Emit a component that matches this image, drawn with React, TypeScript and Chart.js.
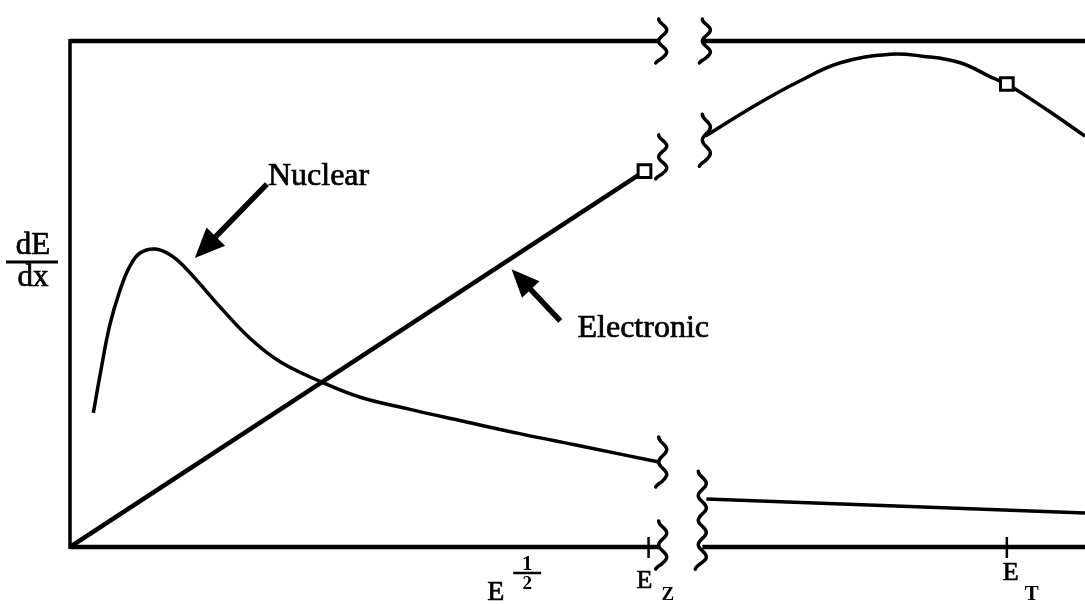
import React, { useEffect, useRef } from "react";
import { Chart, registerables } from "chart.js";

Chart.register(...registerables);

// Energy axis runs in E^1/2 units (0..100 across the frame), dE/dx in relative units.
// Nuclear stopping, low-energy branch
const nuclearLowX = [2.3, 3.0, 3.9, 4.9, 5.9, 6.9, 8.4, 9.9, 11.3, 12.8, 14.8, 17.7, 20.7, 24.8, 28.6, 33.5, 38.4, 44.3, 50.2, 58.0];
const nuclearLowY = [26.5, 34.4, 43.7, 50.6, 55.5, 58.1, 58.9, 57.7, 55.3, 52.0, 47.4, 41.3, 36.6, 32.6, 29.6, 27.2, 25.0, 22.4, 20.0, 16.8];

// Electronic stopping, velocity-proportional region (ends at E_Z)
const electronicLowX = [0, 56.6];
const electronicLowY = [0, 74.3];

// Electronic stopping past the break, peaking and falling beyond E_T
const electronicHighX = [62.6, 67.7, 71.9, 75.9, 80.8, 84.0, 87.7, 90.9, 92.3, 96.1, 100];
const electronicHighY = [81.2, 87.5, 92.1, 95.7, 97.4, 97.0, 95.7, 92.7, 91.5, 86.6, 81.2];
const electronicHighMarker = 8;

// Nuclear stopping past the break
const nuclearHighX = [62.7, 100];
const nuclearHighY = [9.5, 6.7];

// Marked energies on the horizontal axis
const tickValues = [57.0, 92.3];
const tickMain = ["E", "E"];
const tickSub = ["Z", "T"];

// Axis break positions
const breakLeft = 58.0;
const breakRight = 62.3;

const SERIF = '"Liberation Serif", "Times New Roman", serif';

const zip = (xs: number[], ys: number[]) => xs.map((x, i) => ({ x, y: ys[i] }));

// Text with a faint outline so the serif glyphs read as heavy as the ink lines
function inkText(ctx: CanvasRenderingContext2D, s: string, x: number, y: number) {
  ctx.fillText(s, x, y);
  ctx.lineWidth = 0.7;
  ctx.strokeText(s, x, y);
}

// Wavy break mark: vertical stroke with n rightward bumps, meeting the line at its middle
function drawWave(ctx: CanvasRenderingContext2D, px: number, py: number, h: number, n: number) {
  const A = 8;
  ctx.beginPath();
  const steps = 80;
  for (let i = 0; i <= steps; i++) {
    const s = i / steps;
    const bump = Math.sin(n * Math.PI * s);
    let xx = px + A * bump * bump;
    if (s > 0.9) xx -= (s - 0.9) * 30;
    const yy = py - h / 2 + s * h;
    if (i === 0) ctx.moveTo(xx, yy);
    else ctx.lineTo(xx, yy);
  }
  ctx.stroke();
}

function drawArrow(ctx: CanvasRenderingContext2D, x0: number, y0: number, x1: number, y1: number, headLen: number, headW: number, shaftW: number) {
  const ang = Math.atan2(y1 - y0, x1 - x0);
  const bx = x1 - headLen * Math.cos(ang);
  const by = y1 - headLen * Math.sin(ang);
  ctx.lineWidth = shaftW;
  ctx.lineCap = "butt";
  ctx.beginPath();
  ctx.moveTo(x0, y0);
  ctx.lineTo(bx + 2 * Math.cos(ang), by + 2 * Math.sin(ang));
  ctx.stroke();
  const nx = -Math.sin(ang);
  const ny = Math.cos(ang);
  ctx.beginPath();
  ctx.moveTo(x1, y1);
  ctx.lineTo(bx + nx * headW / 2, by + ny * headW / 2);
  ctx.lineTo(bx - nx * headW / 2, by - ny * headW / 2);
  ctx.closePath();
  ctx.fill();
}

const sketchPlugin = {
  id: "sketch",
  beforeDatasetsDraw(chart: any) {
    const { ctx, scales } = chart;
    const X = (v: number) => scales.x.getPixelForValue(v);
    const Y = (v: number) => scales.y.getPixelForValue(v);
    ctx.save();
    ctx.strokeStyle = "#000";
    ctx.lineCap = "butt";
    // left axis
    ctx.lineWidth = 3.5;
    ctx.beginPath();
    ctx.moveTo(X(0), Y(100) - 2);
    ctx.lineTo(X(0), Y(0) + 2);
    ctx.stroke();
    // top and bottom frame lines, interrupted at the break
    ctx.lineWidth = 4.5;
    for (const yv of [100, 0]) {
      ctx.beginPath();
      ctx.moveTo(X(0), Y(yv));
      ctx.lineTo(X(breakLeft), Y(yv));
      ctx.moveTo(X(breakRight), Y(yv));
      ctx.lineTo(X(100) + 5, Y(yv));
      ctx.stroke();
    }
    ctx.restore();
  },
  afterDatasetsDraw(chart: any) {
    const { ctx, scales, chartArea } = chart;
    const X = (v: number) => scales.x.getPixelForValue(v);
    const Y = (v: number) => scales.y.getPixelForValue(v);
    ctx.save();
    ctx.strokeStyle = "#000";
    ctx.fillStyle = "#000";
    ctx.lineJoin = "round";

    // break marks
    ctx.lineWidth = 3.5;
    ctx.lineCap = "round";
    const waves: [number, number, number, number][] = [
      [breakLeft, 100, 44, 2],
      [breakRight, 100, 44, 2],
      [breakLeft, 77.1, 44, 2],
      [breakRight, 80.4, 52, 2],
      [breakLeft, 16.8, 50, 2],
      [breakRight - 0.4, 5.3, 98, 4],
      [breakLeft, 0.4, 48, 2],
    ];
    for (const [xv, yv, h, n] of waves) drawWave(ctx, X(xv), Y(yv), h, n);

    // energy ticks and their labels
    const base = Y(0);
    tickValues.forEach((v, i) => {
      const px = X(v);
      ctx.lineWidth = 2.5;
      ctx.lineCap = "butt";
      ctx.beginPath();
      ctx.moveTo(px, base - 10);
      ctx.lineTo(px, base + 11);
      ctx.stroke();
      ctx.textAlign = "left";
      ctx.textBaseline = "alphabetic";
      const isZ = tickSub[i] === "Z";
      ctx.font = `26px ${SERIF}`;
      inkText(ctx, tickMain[i], px + (isZ ? -12 : -4), base + (isZ ? 41 : 33));
      ctx.font = `bold ${isZ ? 19 : 21}px ${SERIF}`;
      ctx.fillText(tickSub[i], px + (isZ ? 13 : 18), base + 53);
    });

    // horizontal axis title: E^(1/2)
    const ex = X(41.1);
    ctx.textAlign = "left";
    ctx.font = `28px ${SERIF}`;
    inkText(ctx, "E", ex, base + 53);
    ctx.textAlign = "center";
    ctx.font = `bold 20px ${SERIF}`;
    ctx.fillText("1", ex + 40, base + 23);
    ctx.font = `bold 19px ${SERIF}`;
    ctx.fillText("2", ex + 40, base + 42);
    ctx.lineWidth = 2.5;
    ctx.beginPath();
    ctx.moveTo(ex + 26, base + 26);
    ctx.lineTo(ex + 54, base + 26);
    ctx.stroke();

    // vertical axis title: dE/dx
    const fx = chartArea.left - 37;
    const fy = Y(56.3);
    ctx.font = `31px ${SERIF}`;
    ctx.textAlign = "center";
    inkText(ctx, "dE", fx, fy - 8);
    inkText(ctx, "dx", fx, fy + 24);
    ctx.lineWidth = 3;
    ctx.beginPath();
    ctx.moveTo(fx - 27, fy);
    ctx.lineTo(fx + 25, fy);
    ctx.stroke();

    // curve labels with pointers
    ctx.textAlign = "left";
    ctx.font = `32px ${SERIF}`;
    inkText(ctx, "Nuclear", X(19.5), Y(71.5));
    inkText(ctx, "Electronic", X(50.0), Y(41.5));
    drawArrow(ctx, X(19.4), Y(71.7), X(12.3), Y(57.1), 30, 26, 5.5);
    drawArrow(ctx, X(48.3), Y(44.7), X(43.5), Y(54.9), 28, 24, 5.5);

    ctx.restore();
  },
};

export default function App() {
  const ref = useRef<HTMLCanvasElement>(null);
  useEffect(() => {
    const black = "#000";
    const chart = new Chart(ref.current as HTMLCanvasElement, {
      type: "line",
      data: {
        datasets: [
          {
            label: "Nuclear",
            data: zip(nuclearLowX, nuclearLowY),
            borderColor: black,
            borderWidth: 3.5,
            pointRadius: 0,
            tension: 0.4,
          },
          {
            label: "Electronic",
            data: zip(electronicLowX, electronicLowY),
            borderColor: black,
            borderWidth: 4.5,
            pointStyle: "rect",
            pointRadius: electronicLowX.map((_, i) => (i === electronicLowX.length - 1 ? 9 : 0)),
            pointBackgroundColor: "#fff",
            pointBorderColor: black,
            pointBorderWidth: 3,
          },
          {
            label: "Electronic (high E)",
            data: zip(electronicHighX, electronicHighY),
            borderColor: black,
            borderWidth: 3.5,
            tension: 0.4,
            pointStyle: "rect",
            pointRadius: electronicHighX.map((_, i) => (i === electronicHighMarker ? 9 : 0)),
            pointBackgroundColor: "#fff",
            pointBorderColor: black,
            pointBorderWidth: 3,
          },
          {
            label: "Nuclear (high E)",
            data: zip(nuclearHighX, nuclearHighY),
            borderColor: black,
            borderWidth: 3.5,
            pointRadius: 0,
          },
        ],
      },
      options: {
        responsive: false,
        animation: false,
        events: [],
        layout: { autoPadding: false, padding: { left: 70, top: 41, right: 0, bottom: 57 } },
        scales: {
          x: { type: "linear", min: 0, max: 100, display: false },
          y: { type: "linear", min: 0, max: 100, display: false },
        },
        plugins: { legend: { display: false }, tooltip: { enabled: false } },
      },
      plugins: [sketchPlugin],
    });
    return () => chart.destroy();
  }, []);
  return (
    <div style={{ position: "fixed", left: 0, top: 0, width: 1085, height: 604, background: "#fff" }}>
      <canvas ref={ref} width={1085} height={604} style={{ display: "block" }} />
    </div>
  );
}
